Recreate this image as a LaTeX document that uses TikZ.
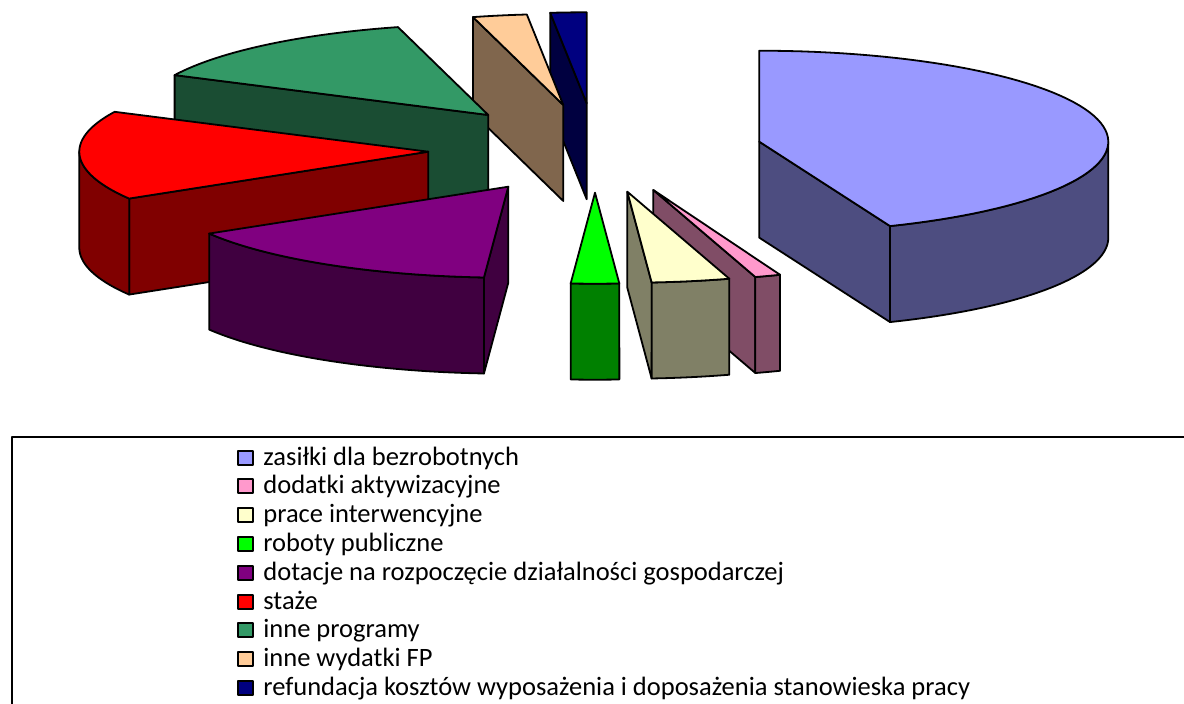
\documentclass[tikz,border=0pt]{standalone}
\usepackage{fontspec}
\setmainfont{Carlito}
\definecolor{blueT}{HTML}{9999FF}\definecolor{blueS}{HTML}{4D4D80}
\definecolor{pinkT}{HTML}{FF99CC}\definecolor{pinkS}{HTML}{804D66}
\definecolor{creamT}{HTML}{FFFFCC}\definecolor{creamS}{HTML}{808066}
\definecolor{greenT}{HTML}{00FF00}\definecolor{greenS}{HTML}{008000}
\definecolor{purpT}{HTML}{800080}\definecolor{purpS}{HTML}{400040}
\definecolor{redT}{HTML}{FF0000}\definecolor{redS}{HTML}{800000}
\definecolor{inneT}{HTML}{339966}\definecolor{inneS}{HTML}{1A4D33}
\definecolor{peachT}{HTML}{FFCC99}\definecolor{peachS}{HTML}{80664D}
\definecolor{navyT}{HTML}{000080}\definecolor{navyS}{HTML}{000040}
\def\RX{349}\def\RY{91}\def\TH{96}
% radial face: cx cy angle colour
\newcommand\pieRad[4]{%
  \filldraw[fill=#4] (#1,#2) -- ({#1+\RX*cos(#3)},{#2-\RY*sin(#3)}) -- ++(0,\TH) -- (#1,#2+\TH) -- cycle;}
% outer face: cx cy t1 t2 colour
\newcommand\pieOut[5]{%
  \filldraw[fill=#5] plot[variable=\t,domain=#3:#4,samples=50] ({#1+\RX*cos(\t)},{#2-\RY*sin(\t)})
   -- plot[variable=\t,domain=#4:#3,samples=50] ({#1+\RX*cos(\t)},{#2+\TH-\RY*sin(\t)}) -- cycle;}
% top face: cx cy a b colour
\newcommand\pieTop[5]{%
  \filldraw[fill=#5] (#1,#2) -- plot[variable=\t,domain=#3:#4,samples=70] ({#1+\RX*cos(\t)},{#2-\RY*sin(\t)}) -- cycle;}
\begin{document}
\begin{tikzpicture}[x=1pt,y=-1pt,line width=1.8pt,line join=round,
  legsq/.style={draw,line width=2pt,minimum width=15pt,minimum height=14pt,inner sep=0pt},
  legtxt/.style={anchor=base west,inner sep=0pt,font=\fontsize{26.5}{30}\selectfont}]
\useasboundingbox (0,0) rectangle (1184,704);
% navy
\pieRad{586.7}{103.3}{96}{navyS}
\pieTop{586.7}{103.3}{90}{96}{navyT}
% peach
\pieRad{563.3}{105}{105}{peachS}
\pieTop{563.3}{105}{96}{105}{peachT}
% inne programy
\pieRad{488.3}{115}{154}{inneS}
\pieTop{488.3}{115}{105}{154}{inneT}
% staze
\pieRad{428.3}{151.7}{211}{redS}
\pieOut{428.3}{151.7}{180}{211}{redS}
\pieTop{428.3}{151.7}{154}{211}{redT}
% dotacje
\pieRad{508.3}{186.7}{-94}{purpS}
\pieOut{508.3}{186.7}{-149}{-94}{purpS}
\pieTop{508.3}{186.7}{-149}{-94}{purpT}
% zasilki
\pieRad{759.3}{141.7}{-68}{blueS}
\pieOut{759.3}{141.7}{-68}{0}{blueS}
\pieTop{759.3}{141.7}{-68}{90}{blueT}
% dodatki
\pieRad{653.3}{190}{-73}{pinkS}
\pieOut{653.3}{190}{-73}{-68.7}{pinkS}
\pieTop{653.3}{190}{-73}{-68.7}{pinkT}
% prace interwencyjne
\pieRad{627.3}{191.7}{-86}{creamS}
\pieOut{627.3}{191.7}{-86}{-73}{creamS}
\pieTop{627.3}{191.7}{-86}{-73}{creamT}
% roboty publiczne
\pieOut{595}{192.7}{-94}{-86}{greenS}
\pieTop{595}{192.7}{-94}{-86}{greenT}
% legend frame
\draw[line width=2pt] (11.5,704) -- (11.5,437) -- (1184,437);
% legend entries
\foreach \i/\c/\txt in {0/blueT/{zasiłki dla bezrobotnych},1/pinkT/{dodatki aktywizacyjne},2/creamT/{prace interwencyjne},3/greenT/{roboty publiczne},4/purpT/{dotacje na rozpoczęcie działalności gospodarczej},5/redT/{staże},6/inneT/{inne programy},7/peachT/{inne wydatki FP},8/navyT/{refundacja kosztów wyposażenia i doposażenia stanowieska pracy}}{
  \node[legsq,fill=\c] (sq\i) at (245.5,{457.5+28.8*\i}) {};
  \node[legtxt] (lt\i) at (262.5,{465+28.8*\i}) {\txt};
}
\end{tikzpicture}
\end{document}
